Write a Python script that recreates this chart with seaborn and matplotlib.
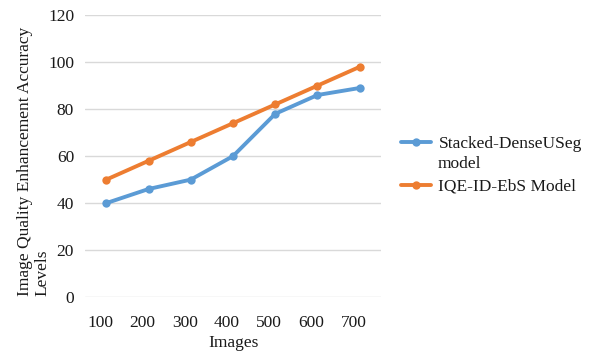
import matplotlib
matplotlib.use("Agg")
import matplotlib.pyplot as plt
from matplotlib.transforms import ScaledTranslation
import seaborn as sns
import pandas as pd

images = [100, 200, 300, 400, 500, 600, 700]
stacked = [40, 46, 50, 60, 78, 86, 89]
iqe = [50, 58, 66, 74, 82, 90, 98]
series_names = ["Stacked-DenseUSeg", "IQE-ID-EbS Model"]
colors = ["#5B9BD5", "#ED7D31"]

df = pd.DataFrame({
    "Images": images * 2,
    "Value": stacked + iqe,
    "Series": [series_names[0]] * len(images) + [series_names[1]] * len(images),
})

sns.set_theme(style="white")
plt.rcParams["font.family"] = ["Liberation Serif", "DejaVu Serif"]

FS = 12.5
TXT = "#1a1a1a"
fig = plt.figure(figsize=(5.96, 3.52), dpi=100)
ax = fig.add_axes([0.143, 0.156, 0.496, 0.801])

sns.lineplot(data=df, x="Images", y="Value", hue="Series", palette=colors,
             marker="o", markersize=6, markeredgewidth=0, linewidth=2.8,
             ax=ax, legend=True)

ax.set_xlim(50, 750)
ax.set_ylim(0, 120)
ax.set_xticks(images)
ax.set_xticklabels([str(v) for v in images])
ax.set_yticks(range(0, 121, 20))
ax.grid(axis="y", color="#D9D9D9", linewidth=1)
ax.set_axisbelow(True)
for s in ax.spines.values():
    s.set_visible(False)
ax.tick_params(axis="both", length=0, labelsize=FS, colors=TXT)
ax.tick_params(axis="x", pad=13)
ax.tick_params(axis="y", pad=8)
shift = ScaledTranslation(-6 / 100, 0, fig.dpi_scale_trans)
for lab in ax.get_xticklabels():
    lab.set_transform(lab.get_transform() + shift)

ax.set_xlabel("Images", fontsize=FS, color=TXT, labelpad=3)
ax.set_ylabel("Image Quality Enhancement Accuracy\nLevels", fontsize=FS,
              color=TXT, linespacing=1.15, multialignment="left")
ax.yaxis.set_label_coords(-0.118, 0.482)

handles, labels = ax.get_legend_handles_labels()
ax.legend_.remove()
leg = fig.legend(handles, labels, loc="upper left", bbox_to_anchor=(0.673, 0.615),
                 frameon=False, fontsize=FS, handlelength=1.7, labelspacing=1.55,
                 handletextpad=0.45, borderaxespad=0, borderpad=0)
fig.text(0.735, 0.535, "model", fontsize=FS, color=TXT, va="center", ha="left")
for t in leg.get_texts():
    t.set_color(TXT)

fig.savefig("out.png", dpi=100)
